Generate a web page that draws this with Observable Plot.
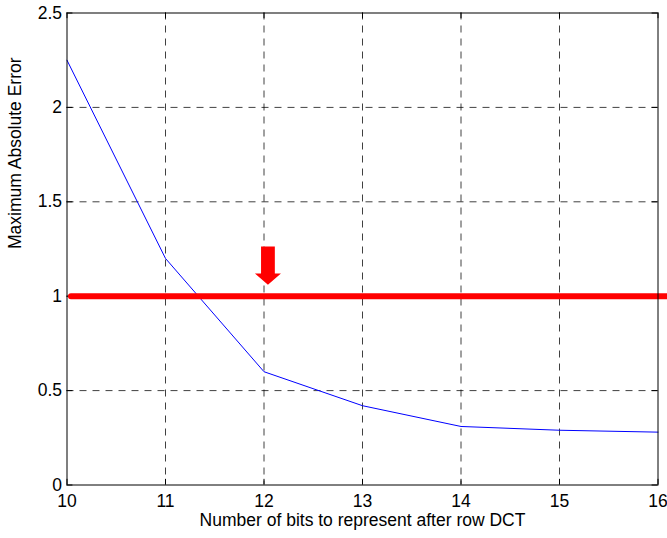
<!DOCTYPE html>
<html>
<head>
<meta charset="utf-8">
<script src="https://cdn.jsdelivr.net/npm/d3@7"></script>
<script src="https://cdn.jsdelivr.net/npm/@observablehq/plot@0.6"></script>
<style>
  html, body { margin: 0; padding: 0; background: #fff; }
  #chart svg { display: block; }
</style>
</head>
<body>
<div id="chart"></div>
<script>
// Data
const bits = [10, 11, 12, 13, 14, 15, 16];
const maxAbsError = [2.25, 1.2, 0.6, 0.42, 0.31, 0.29, 0.28];
const xTicks = [10, 11, 12, 13, 14, 15, 16];
const yTicks = [0, 0.5, 1, 1.5, 2, 2.5];
const yTickLabels = ["0", "0.5", "1", "1.5", "2", "2.5"];
const xLabel = "Number of bits to represent after row DCT";
const yLabel = "Maximum Absolute Error";
// Threshold annotation
const thresholdValue = 1;
const thresholdSpan = [10.04, 16.1];
// Arrow annotation (data units)
const arrowX = 12.04;
const arrowTop = 1.263, arrowNeck = 1.12, arrowTip = 1.06;
const arrowShaftHalf = 0.07, arrowHeadHalf = 0.132;

const series = bits.map((b, i) => ({x: b, y: maxAbsError[i]}));
const threshold = thresholdSpan.map(x => ({x, y: thresholdValue}));
const arrowPoly = [
  {x: arrowX - arrowShaftHalf, y: arrowTop},
  {x: arrowX + arrowShaftHalf, y: arrowTop},
  {x: arrowX + arrowShaftHalf, y: arrowNeck},
  {x: arrowX + arrowHeadHalf, y: arrowNeck},
  {x: arrowX, y: arrowTip},
  {x: arrowX - arrowHeadHalf, y: arrowNeck},
  {x: arrowX - arrowShaftHalf, y: arrowNeck},
  {x: arrowX - arrowShaftHalf, y: arrowTop}
];

const font = "'Liberation Sans', Arial, Helvetica, sans-serif";
const fs = 17.5;
const gridStyle = {stroke: "#000", strokeOpacity: 0.75, strokeDasharray: "7,6", strokeWidth: 1};
const tickLenY = 0.03, tickLenX = 0.06;

const chart = Plot.plot({
  width: 667,
  height: 538,
  marginLeft: 66.5,
  marginRight: 9.5,
  marginTop: 12.5,
  marginBottom: 53.5,
  style: {fontFamily: font, fontSize: fs + "px", background: "#fff", color: "#000"},
  x: {domain: [10, 16]},
  y: {domain: [0, 2.5]},
  marks: [
    Plot.gridX(xTicks.slice(1, -1), gridStyle),
    Plot.gridY(yTicks.slice(1, -1), gridStyle),
    Plot.axisX(xTicks, {tickSize: 0, tickPadding: 10, label: null, fontSize: fs, fill: "#000"}),
    Plot.axisY(yTicks, {tickSize: 0, tickPadding: 5, label: null, fontSize: fs, fill: "#000", tickFormat: (d, i) => yTickLabels[i]}),
    // inward ticks on all four sides
    Plot.ruleX(xTicks, {y1: 0, y2: tickLenY, stroke: "#000"}),
    Plot.ruleX(xTicks, {y1: 2.5 - tickLenY, y2: 2.5, stroke: "#000"}),
    Plot.ruleY(yTicks, {x1: 10, x2: 10 + tickLenX, stroke: "#000"}),
    Plot.ruleY(yTicks, {x1: 16 - tickLenX, x2: 16, stroke: "#000"}),
    Plot.line(series, {x: "x", y: "y", stroke: "#0000ff", strokeWidth: 1}),
    Plot.line(threshold, {x: "x", y: "y", stroke: "#ff0000", strokeWidth: 6}),
    Plot.line(arrowPoly, {x: "x", y: "y", fill: "#ff0000", stroke: "none"}),
    Plot.frame({stroke: "#000", strokeWidth: 1}),
    Plot.text([xLabel], {frameAnchor: "bottom", lineAnchor: "bottom", dy: 41, fontSize: fs, fill: "#000"}),
    Plot.text([yLabel], {frameAnchor: "left", lineAnchor: "bottom", rotate: -90, dx: -46.5, fontSize: fs, fill: "#000"})
  ]
});
document.getElementById("chart").appendChild(chart);
</script>
</body>
</html>
